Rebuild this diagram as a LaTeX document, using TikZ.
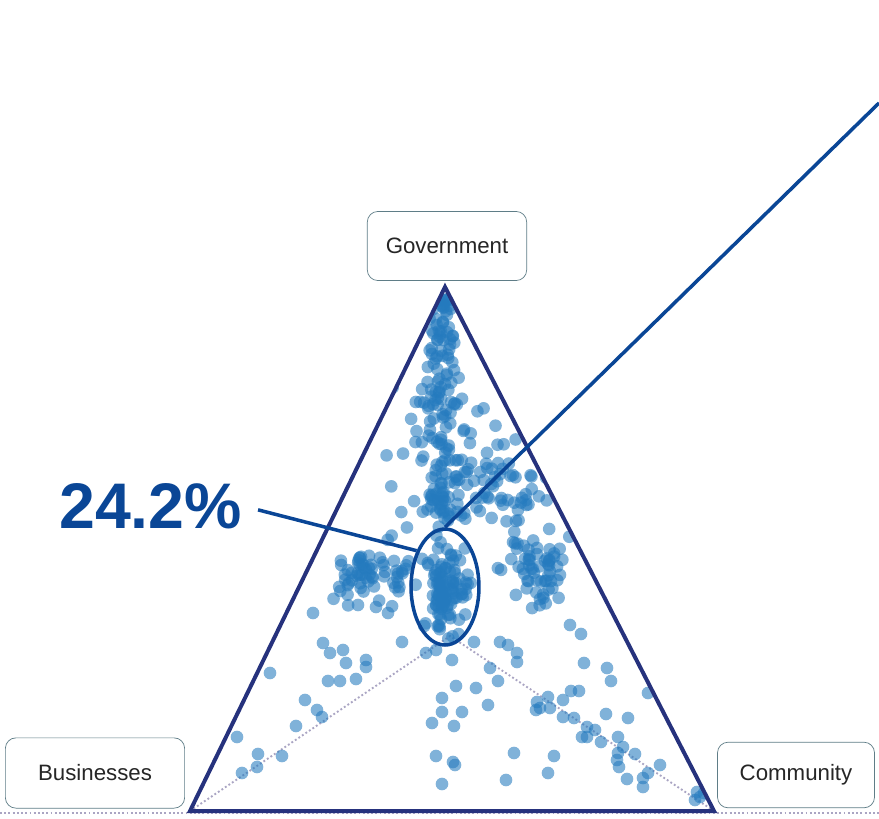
\documentclass[tikz,border=0pt]{standalone}
\usepackage{fontspec}
\setmainfont{Liberation Sans}
\usetikzlibrary{shapes.geometric}
\definecolor{navy}{RGB}{38,50,125}
\definecolor{callblue}{RGB}{10,70,150}
\definecolor{dotblue}{RGB}{36,122,190}
\definecolor{boxedge}{RGB}{95,125,135}
\definecolor{guidegrey}{RGB}{170,165,195}
\tikzset{
  labelbox/.style={draw=boxedge, line width=.6pt, rounded corners=9pt, fill=white,
    font=\fontsize{19}{22}\selectfont, text=black!85},
  frame/.style={draw=navy, line width=3.4pt, line join=miter},
  callout/.style={draw=callblue, line width=3pt},
  guide/.style={draw=guidegrey, line width=1.6pt, dotted},
  datadot/.style={fill=dotblue, fill opacity=.58},
}

\begin{document}
\begin{tikzpicture}[x=0.03cm, y=-0.03cm]
    \useasboundingbox (0,0) rectangle (879,818);
    \pgfmathsetseed{42}
    \coordinate (top) at (445,287);
    \coordinate (bl) at (190,811);
    \coordinate (br) at (714,811);
    \coordinate (cen) at (450,636);
    % baseline and guides to the centre
    \draw[guide, line width=.9pt] (0,813) -- (879,813);
    \draw[guide] (bl) -- (cen) -- (br);
    % the sample points
    \begin{scope}
    \clip (top) -- (bl) -- (br) -- cycle;
    \foreach \i in {1,...,100}
    {\pgfmathsetmacro\py{383+91*rand}
     \pgfmathsetmacro\px{444-0.02*(\py-292)+(5+0.04*(\py-292))*(rand+rand+rand)}
     \fill[datadot] (\px,\py) circle (5.4pt);}
    \foreach \cx/\cy/\sx/\sy/\n in {445/590/11/22/110, 441/497/9/14/40,
        358/572/14/13/45, 398/560/11/20/20, 538/572/15/18/60,
        500/492/22/24/55, 445/430/30/36/50}
    \foreach \i in {1,...,\n}
    {\pgfmathsetmacro\px{\cx+\sx*(rand+rand+rand)}
     \pgfmathsetmacro\py{\cy+\sy*(rand+rand+rand)}
     \fill[datadot] (\px,\py) circle (5.4pt);}
    \foreach \px/\py in {313/613, 358/605, 376/607, 388/613, 323/643, 330/653,
        343/650, 346/663, 366/660, 366/667, 328/681, 340/681, 356/679, 402/642,
        426/653, 436/650, 452/660, 305/700, 317/710, 322/717, 474/642, 500/642,
        508/645, 517/653, 517/662, 490/668, 498/681, 456/686, 476/688, 442/698,
        442/712, 462/712, 488/705, 432/723, 454/726, 436/756, 453/762, 455/765,
        442/784, 514/753, 506/780, 554/756, 548/773, 570/625, 581/634, 584/663,
        607/668, 611/681, 648/693, 571/691, 579/691, 548/697, 537/702, 540/708,
        536/710, 550/708, 563/700, 563/717, 574/718, 606/714, 628/718, 587/727,
        595/730, 582/737, 587/737, 601/742, 618/737, 623/747, 618/753, 617/760,
        619/767, 635/754, 660/765, 648/773, 643/778, 627/779, 643/787, 697/792,
        695/800, 700/797, 704/793, 270/673, 237/737, 258/754, 282/756, 257/767,
        242/773, 296/726}
    \fill[datadot] (\px,\py) circle (5.4pt);
    \end{scope}
    \draw[frame] (top) -- (bl) -- (br) -- cycle;
    % corner labels
    \node[labelbox, minimum width=136pt, minimum height=59pt] (gov) at (447,246) {Government};
    \node[labelbox, minimum width=153pt, minimum height=60pt] (bus) at (95,773) {Businesses};
    \node[labelbox, minimum width=134pt, minimum height=56pt] (com) at (796,775) {Community};
    % highlighted share
    \node[ellipse, draw=callblue, line width=3pt, minimum width=58pt, minimum height=99pt,
      inner sep=0pt] (core) at (445,587) {};
    \node[anchor=base west, inner sep=0pt, text=callblue,
      font=\bfseries\fontsize{55}{60}\selectfont] (pct) at (59,528) {24.2\%};
    \coordinate (far) at (879,103);
    \draw[callout, shorten <=14pt] (pct.east) -- (core.128);
    \draw[callout] (core.north) -- (far);
\end{tikzpicture}
\end{document}
